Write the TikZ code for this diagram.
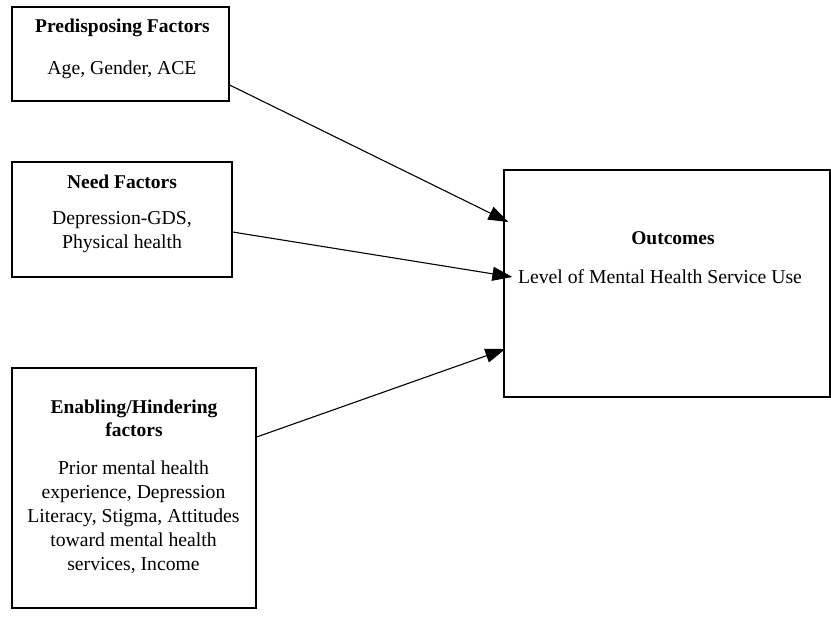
\documentclass[tikz,border=0pt]{standalone}
\usepackage{fontspec}
\setmainfont{Liberation Serif}
\usetikzlibrary{arrows.meta}
\tikzset{
  box/.style={draw, line width=1.3pt, inner sep=0pt},
  hd/.style={font=\fontsize{19.5}{23}\selectfont\bfseries, align=center},
  txt/.style={font=\fontsize{19.7}{24}\selectfont, align=center},
  arr/.style={line width=1.1pt, -{Triangle[length=20pt,width=14pt]}}
}
\begin{document}
\begin{tikzpicture}[x=1pt, y=-1pt]
	\useasboundingbox (0,0) rectangle (831,619);
	% boxes
	\node[box, minimum width=217pt, minimum height=94pt] (pre) at (120.5,54) {};
	\node[box, minimum width=220pt, minimum height=115pt] (need) at (122,219.5) {};
	\node[box, minimum width=244pt, minimum height=240pt] (enab) at (134,488) {};
	\node[box, minimum width=326pt, minimum height=227pt] (outc) at (667,283.5) {};
	% texts
	\node[hd] (preT) at (122.5,28) {Predisposing Factors};
	\node[txt] (preB) at (122,70) {Age, Gender, ACE};
	\node[hd] (needT) at (122,182) {Need Factors};
	\node[txt] (needB) at (122,232.5) {Depression-GDS,\\Physical health};
	\node[hd] (enabT) at (134,418.5) {Enabling/Hindering\\factors};
	\node[txt] (enabB) at (133.5,517.5) {Prior mental health\\experience, Depression\\Literacy, Stigma, Attitudes\\toward mental health\\services, Income};
	\node[hd] (outcT) at (673,238) {Outcomes};
	\node[txt] (outcB) at (660,277) {Level of Mental Health Service Use};
	% arrows
	\draw[arr] ([yshift=-31pt]pre.east) -- ([xshift=5pt,yshift=61.5pt]outc.west);
	\draw[arr] ([yshift=-12.5pt]need.east) -- ([xshift=9pt,yshift=6.5pt]outc.west);
	\draw[arr] ([yshift=51pt]enab.east) -- ([xshift=2pt,yshift=-65.5pt]outc.west);
\end{tikzpicture}
\end{document}
